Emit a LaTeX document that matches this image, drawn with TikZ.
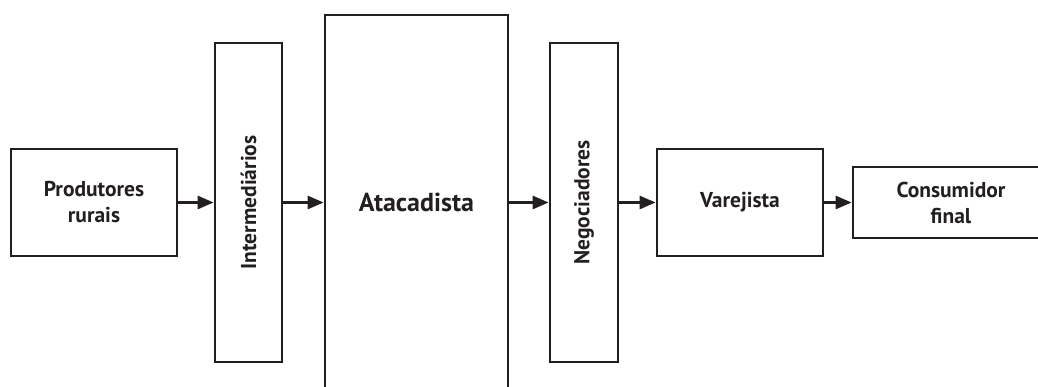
\documentclass[tikz,border=0pt]{standalone}
\usepackage{fontspec}
\setmainfont{PT Sans}
\usetikzlibrary{arrows.meta}
\definecolor{ink}{HTML}{231F20}
\begin{document}
\begin{tikzpicture}[x=1pt,y=1pt,
  lbl/.style={text=ink,font=\fontsize{21.5}{26}\selectfont\bfseries,align=center},
  box/.style={draw=ink,line width=2.8pt,inner sep=0pt,lbl},
  flow/.style={draw=ink,line width=2.8pt,-{Triangle[length=16pt,width=13pt]}}]
\useasboundingbox (0,0) rectangle (1038,387);
\clip (0,0) rectangle (1038,387);
\node[box,minimum width=166pt,minimum height=107pt] (prod) at (94,184.5) {Produtores\\rurais};
\node[box,minimum width=67pt,minimum height=319pt] (inter) at (248.5,184.5) {};
\node[lbl,rotate=90] (interlbl) at (inter.center) {Intermediários};
\node[box,minimum width=183pt,minimum height=375pt] (atac) at (416.5,184.5) {};
\node[lbl,font=\fontsize{26}{30}\selectfont\bfseries] (ataclbl) at (416.5,184.5) {Atacadista};
\node[box,minimum width=68pt,minimum height=319pt] (nego) at (584,184.5) {};
\node[lbl,rotate=90] (negolbl) at (nego.center) {Negociadores};
\node[box,minimum width=166pt,minimum height=107pt] (vare) at (740,184.5) {Varejista};
\node[box,minimum width=196pt,minimum height=71pt] (cons) at (951,184.5) {Consumidor\\final};
\draw[flow] (prod.east) -- (inter.west);
\draw[flow] (inter.east) -- (atac.west);
\draw[flow] (atac.east) -- (nego.west);
\draw[flow] (nego.east) -- (vare.west);
\draw[flow] (vare.east) -- (cons.west);
\end{tikzpicture}
\end{document}
